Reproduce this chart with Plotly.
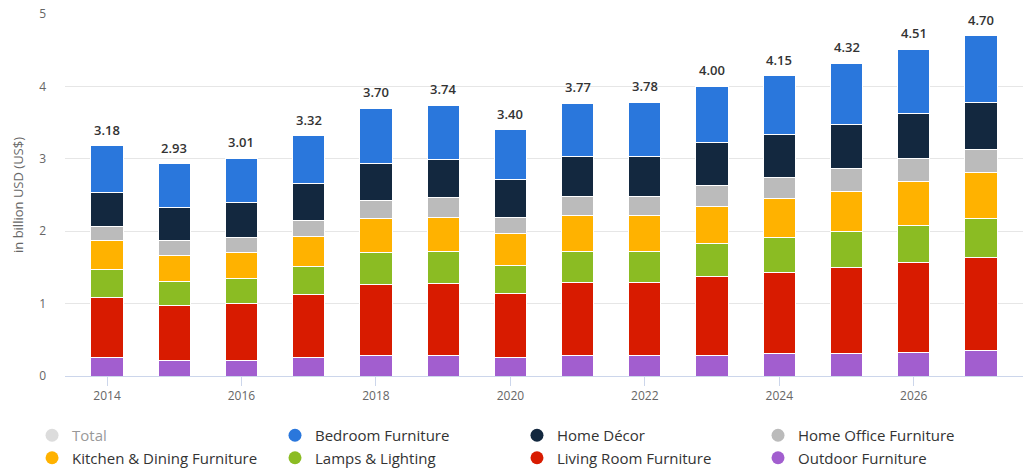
import plotly.graph_objects as go

years = [2014, 2015, 2016, 2017, 2018, 2019, 2020, 2021, 2022, 2023, 2024, 2025, 2026, 2027]
totals = [3.18, 2.93, 3.01, 3.32, 3.70, 3.74, 3.40, 3.77, 3.78, 4.00, 4.15, 4.32, 4.51, 4.70]
outdoor = [0.26, 0.22, 0.22, 0.26, 0.29, 0.29, 0.26, 0.28, 0.28, 0.29, 0.31, 0.31, 0.33, 0.35]
living = [0.83, 0.75, 0.78, 0.86, 0.97, 0.99, 0.88, 1.01, 1.01, 1.09, 1.12, 1.19, 1.24, 1.29]
lamps = [0.38, 0.34, 0.34, 0.39, 0.45, 0.44, 0.39, 0.43, 0.43, 0.45, 0.48, 0.49, 0.51, 0.54]
kitchen = [0.40, 0.36, 0.37, 0.41, 0.47, 0.47, 0.44, 0.50, 0.50, 0.51, 0.54, 0.56, 0.61, 0.63]
office = [0.20, 0.20, 0.20, 0.23, 0.25, 0.28, 0.22, 0.26, 0.26, 0.29, 0.29, 0.31, 0.31, 0.32]
decor = [0.46, 0.46, 0.48, 0.51, 0.51, 0.52, 0.53, 0.55, 0.55, 0.59, 0.60, 0.61, 0.63, 0.65]
bedroom = [0.65, 0.60, 0.62, 0.66, 0.76, 0.75, 0.68, 0.74, 0.75, 0.78, 0.81, 0.85, 0.88, 0.92]
x_tick_years = [2014, 2016, 2018, 2020, 2022, 2024, 2026]

# stacking order bottom -> top
stack = [
    ("Outdoor Furniture", outdoor, "#a25ecf"),
    ("Living Room Furniture", living, "#d81b00"),
    ("Lamps & Lighting", lamps, "#8bbc23"),
    ("Kitchen & Dining Furniture", kitchen, "#ffb200"),
    ("Home Office Furniture", office, "#bbbbbb"),
    ("Home Décor", decor, "#13283f"),
    ("Bedroom Furniture", bedroom, "#2a77dc"),
]
# legend: 4 columns x 2 rows
legend_columns = [
    ["Total", "Kitchen & Dining Furniture"],
    ["Bedroom Furniture", "Lamps & Lighting"],
    ["Home Décor", "Living Room Furniture"],
    ["Home Office Furniture", "Outdoor Furniture"],
]
colors = {name: c for name, _, c in stack}
colors["Total"] = "#bbbbbb"

fig = go.Figure()
for name, vals, col in stack:
    fig.add_trace(go.Bar(x=years, y=vals, name=name, marker_color=col,
                         marker_line=dict(color="white", width=1), width=0.48,
                         showlegend=False, hoverinfo="y+name"))

for yr, tot in zip(years, totals):
    fig.add_annotation(x=yr, y=tot, text=f"{tot:.2f}", showarrow=False,
                       yanchor="bottom", yshift=5,
                       font=dict(size=13, color="#333333", family="Open Sans", weight=600))

legend_ids = ["legend", "legend2", "legend3", "legend4"]
for lg, column in zip(legend_ids, legend_columns):
    for i, name in enumerate(column):
        fig.add_trace(go.Scatter(x=[None], y=[None], mode="markers", name=name,
                                 marker=dict(symbol="circle", size=13, color=colors[name]),
                                 visible="legendonly" if name == "Total" else True,
                                 legend=lg, legendrank=i + 1))

leg_common = dict(orientation="v", xref="paper", yref="container",
                  xanchor="left", y=0.1066, yanchor="top", traceorder="normal",
                  font=dict(size=15, color="#333333", family="Open Sans"),
                  itemclick=False, itemdoubleclick=False)
col_x = [-0.0344, 0.2192, 0.4718, 0.7234]

fig.update_layout(
    barmode="stack",
    width=1027, height=469,
    margin=dict(l=65, r=4, t=14, b=93),
    plot_bgcolor="white", paper_bgcolor="white",
    font=dict(family="Open Sans", color="#666666", size=12),
    showlegend=True,
    **{lg: dict(x=x, **leg_common) for lg, x in zip(legend_ids, col_x)},
)
fig.update_xaxes(range=[2013.375, 2027.625], tickvals=x_tick_years,
                 ticks="outside", ticklen=9, tickcolor="#ccd6eb", showline=True,
                 linecolor="#ccd6eb", linewidth=1, showgrid=False, zeroline=False,
                 tickfont=dict(size=12, color="#666666"))
fig.update_yaxes(range=[0, 5], dtick=1, showgrid=True, gridcolor="#e6e6e6", zeroline=False,
                 ticklabelstandoff=18, tickfont=dict(size=12, color="#666666"),
                 title=dict(text="in billion USD (US$)", standoff=12,
                            font=dict(size=13, color="#666666")))

fig.write_html("out.html")
